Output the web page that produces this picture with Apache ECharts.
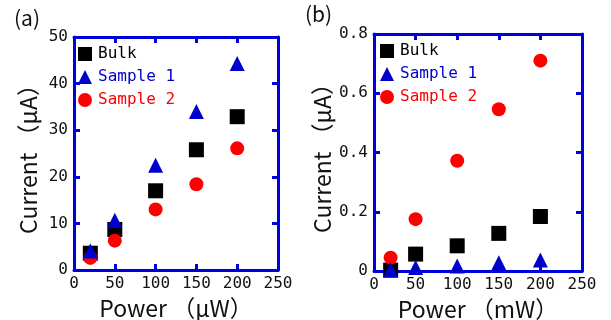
<!DOCTYPE html>
<html><head><meta charset="utf-8">
<script src="https://cdn.jsdelivr.net/npm/echarts@6/dist/echarts.min.js"></script>
<style>html,body{margin:0;padding:0;background:#fff}#c{width:611px;height:320px}</style>
</head><body><div id="c"></div>
<script>
const powers = [20, 50, 100, 150, 200];
const aBulk = [3.6, 8.7, 17.0, 25.8, 32.9];
const aS1 = [4.1, 10.7, 22.5, 34.0, 44.3];
const aS2 = [2.6, 6.3, 13.0, 18.4, 26.1];
const bBulk = [0.003, 0.057, 0.085, 0.127, 0.184];
const bS1 = [0.003, 0.012, 0.017, 0.028, 0.037];
const bS2 = [0.045, 0.175, 0.372, 0.546, 0.71];
const seriesNames = ['Bulk', 'Sample 1', 'Sample 2'];
const xTitleA = 'Power （μW）';
const xTitleB = 'Power （mW）';
const yTitle = 'Current （μA）';

const FONT = '"DejaVu Sans Mono", monospace';
const TFONT = '"Noto Sans CJK JP", sans-serif';
const BLUE = '#0000dd';
const colors = ['#000000', '#0000cc', '#ff0000'];
const symbols = ['rect', 'triangle', 'circle'];
const sizes = [15, 15, 14];

function pairs(ys) { return powers.map((p, i) => [p, ys[i]]); }

function axisBase(show) {
  return {
    axisLine: {show: true, onZero: false, lineStyle: {color: BLUE, width: 3}},
    axisTick: {show: true, inside: true, length: 6, lineStyle: {color: BLUE, width: 3}},
    splitLine: {show: false},
    axisLabel: {show: show, color: '#111', fontFamily: FONT, fontSize: 16, margin: 6}
  };
}

const grids = [
  {left: 74, top: 37, width: 204, height: 233, outerBoundsMode: 'none', containLabel: false},
  {left: 374, top: 34, width: 208, height: 237, outerBoundsMode: 'none', containLabel: false}
];

const xAxes = [], yAxes = [];
[0, 1].forEach(g => {
  xAxes.push(Object.assign(axisBase(true), {type: 'value', gridIndex: g, min: 0, max: 250, interval: 50, position: 'bottom',
    name: g === 0 ? xTitleA : xTitleB, nameLocation: 'middle', nameGap: 20,
    nameTextStyle: {fontFamily: TFONT, fontSize: 23, color: '#111'}}));
  xAxes.push(Object.assign(axisBase(false), {type: 'value', gridIndex: g, min: 0, max: 250, interval: 50, position: 'top'}));
  const ymax = g === 0 ? 50 : 0.8, yint = g === 0 ? 10 : 0.2;
  yAxes.push(Object.assign(axisBase(true), {type: 'value', gridIndex: g, min: 0, max: ymax, interval: yint, position: 'left',
    name: yTitle, nameLocation: 'middle', nameGap: g === 0 ? 34 : 40,
    nameTextStyle: {fontFamily: TFONT, fontSize: 23, color: '#111'}}));
  yAxes.push(Object.assign(axisBase(false), {type: 'value', gridIndex: g, min: 0, max: ymax, interval: yint, position: 'right'}));
});

const series = [];
const dataSets = [[aBulk, aS1, aS2], [bBulk, bS1, bS2]];
dataSets.forEach((set, g) => {
  set.forEach((ys, k) => {
    series.push({type: 'scatter', name: seriesNames[k] + (g ? ' ' : ''), xAxisIndex: g * 2, yAxisIndex: g * 2,
      symbol: symbols[k], symbolSize: sizes[k], itemStyle: {color: colors[k], opacity: 1}, data: pairs(ys), z: 3 + (k === 1 ? 1 : 0)});
  });
});

function legend(g, left, top) {
  return {
    left: left, top: top, orient: 'vertical', itemGap: 7, itemWidth: 14, itemHeight: 14,
    data: seriesNames.map((n, k) => ({name: n + (g ? ' ' : ''), icon: symbols[k],
      itemStyle: {opacity: 1}, textStyle: {color: colors[k]}})),
    textStyle: {fontFamily: FONT, fontSize: 16, padding: [0, 0, 0, 1]}
  };
}

const chart = echarts.init(document.getElementById('c'));
chart.setOption({
  animation: false,
  grid: grids,
  xAxis: xAxes,
  yAxis: yAxes,
  series: series,
  legend: [legend(0, 73, 41), legend(1, 375, 38)],
  graphic: [
    {type: 'text', left: 14, top: 8, style: {text: '(a)', font: '21px "Noto Sans CJK JP", sans-serif', fill: '#111'}},
    {type: 'text', left: 305, top: 4, style: {text: '(b)', font: '21px "Noto Sans CJK JP", sans-serif', fill: '#111'}}
  ]
});
</script></body></html>
